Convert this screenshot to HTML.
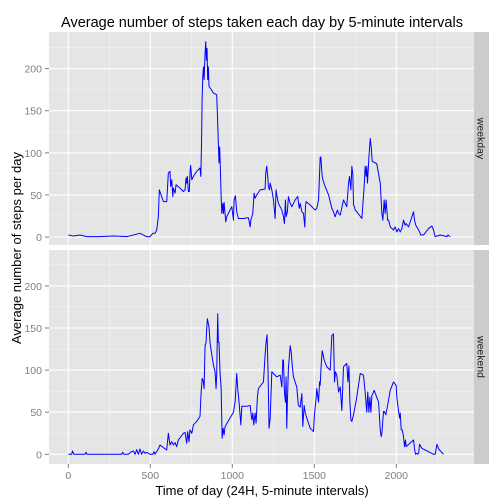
<!DOCTYPE html>
<html><head><meta charset="utf-8"><style>
body{margin:0;background:#fff}
svg{display:block;font-family:"Liberation Sans",Arial,sans-serif}
</style></head><body>
<svg id="chart" width="504" height="504" viewBox="0 0 504 504">
<text x="262" y="27" text-anchor="middle" font-size="14.5" fill="#000">Average number of steps taken each day by 5-minute intervals</text>
<text x="262" y="495" text-anchor="middle" font-size="13" fill="#000">Time of day (24H, 5-minute intervals)</text>
<text transform="translate(21,248) rotate(-90)" text-anchor="middle" font-size="13" fill="#000">Average number of steps per day</text>
<g id="plots"></g>
</svg>
<script>
const xTicks=[0,500,1000,1500,2000];
const xMinor=[250,750,1250,1750,2250];
const yTicks=[0,50,100,150,200];
const yMinor=[25,75,125,175,225];
const facetNames=["weekday","weekend"];
const weekdayX=[0,31,71,112,193,275,356,437,478,498,515,529,539,549,555,580,600,610,620,624,631,637,641,651,657,681,702,712,718,722,726,732,738,742,746,753,763,783,803,808,812,816,820,824,828,834,838,842,846,850,854,858,885,905,909,915,919,923,928,932,936,942,946,950,960,966,986,997,1007,1011,1019,1027,1037,1068,1098,1109,1113,1125,1133,1139,1149,1170,1200,1204,1210,1216,1220,1227,1231,1241,1251,1261,1267,1271,1281,1302,1312,1318,1324,1328,1336,1342,1353,1363,1373,1383,1399,1408,1414,1424,1434,1442,1446,1450,1475,1505,1515,1526,1536,1540,1548,1552,1566,1587,1607,1617,1627,1637,1641,1648,1658,1678,1698,1709,1715,1723,1729,1735,1739,1745,1749,1759,1790,1804,1810,1816,1820,1824,1829,1833,1841,1847,1853,1861,1881,1902,1912,1918,1926,1932,1938,1947,1953,1963,1983,1993,2003,2014,2024,2034,2044,2054,2060,2075,2105,2111,2119,2136,2150,2166,2197,2217,2227,2237,2248,2268,2309,2315,2329,2349];
const weekdayY=[2.4,1.2,2.4,0.4,0.4,1.2,0.4,4.4,0.4,0.4,4.4,4.4,8.3,24,56,42,42,76,78,60,68,48,58,52,62,58,54,56,70,64,72,54,54,76,85,68,72,78,82,72,107,163,190,202,187,218,232,210,224,187,202,179,171,169,147,111,88,107,76,48,28,40,28,41,18,24,32,36,20,44,49,30,22,22,23,12,20,28,52,46,50,56,57,76,84,72,60,56,64,56,44,22,56,50,40,32,24,16,44,24,30,48,40,36,40,44,48,34,40,30,28,12,36,42,38,32,34,44,95,95,72,68,60,50,34,30,24,30,32,28,26,44,36,64,72,56,84,74,38,36,32,30,22,60,84,72,84,64,80,95,117,107,90,89,87,64,28,20,44,28,44,20,20,12,8.3,12,6,10,6,10,20,14,16,12,30,20,14,8.3,2.4,2.4,10,13,8.3,0.4,1.2,2.4,0.4,2.4,0.4];
const weekendX=[0,20,26,33,102,108,114,325,332,338,366,386,397,407,417,427,437,447,458,468,478,498,515,523,529,539,549,559,580,600,610,620,631,641,651,661,671,702,712,722,728,736,742,753,763,783,803,810,816,822,828,834,840,844,848,852,858,864,875,885,895,901,905,911,915,919,925,932,938,944,950,956,986,1007,1017,1027,1033,1041,1048,1052,1058,1088,1109,1115,1119,1125,1131,1139,1145,1153,1159,1190,1200,1206,1212,1218,1224,1231,1241,1251,1271,1292,1302,1308,1312,1318,1324,1328,1332,1336,1342,1353,1359,1365,1373,1383,1393,1403,1414,1424,1430,1438,1444,1454,1475,1495,1501,1511,1515,1526,1532,1536,1542,1548,1552,1560,1576,1597,1607,1617,1623,1629,1637,1648,1658,1668,1678,1698,1705,1711,1717,1723,1729,1739,1749,1759,1780,1800,1810,1820,1826,1833,1839,1845,1851,1857,1865,1892,1902,1908,1912,1922,1926,1936,1947,1963,1983,1999,2003,2014,2020,2024,2030,2036,2044,2050,2056,2060,2105,2111,2117,2123,2130,2136,2142,2156,2227,2237,2248,2258,2288,2309,2329,2335,2341,2353];
const weekendY=[0,0,3.9,0,0,2.4,0,0,2.4,0,0,3.2,3.9,0,5.5,0,6.3,0,3.9,1.2,2.4,0,0,3.2,0,3.2,6.3,11,7.9,5.1,25,11,15,11,14,9.1,17,25,26,13,27,15,29,25,35,39,45,74,90,88,78,129,133,149,161,157,151,133,118,106,98,78,96,167,133,133,98,78,19,31,23,33,43,50,62,96,78,62,45,35,57,57,58,47,41,49,35,49,37,68,78,86,118,133,142,98,31,43,98,96,92,94,80,112,112,74,62,92,31,62,102,129,122,106,92,86,80,58,56,72,33,58,50,43,31,27,47,66,78,62,86,82,106,123,120,112,104,100,141,143,86,98,94,74,80,52,104,108,86,105,62,41,39,47,57,68,96,94,74,50,74,50,68,50,70,72,76,62,29,21,25,51,51,47,58,76,86,82,68,51,43,49,29,29,21,9.1,17,9.1,17,7.1,0,1.2,0,1.2,12,7.1,0,0,12,6.3,0];
const seriesX=[weekdayX,weekendX];
const seriesY=[weekdayY,weekendY];

const NS="http://www.w3.org/2000/svg";
const plots=document.getElementById('plots');
const L=49,R=474;
const panels=[{top:32,bot:245,y0:237},{top:250,bot:464,y0:454.3}];
const ky=0.842;
function xs(v){return 68.3+v*0.164;}
function mk(tag,attrs,parent){const e=document.createElementNS(NS,tag);for(const k in attrs)e.setAttribute(k,attrs[k]);parent.appendChild(e);return e;}
panels.forEach((p,i)=>{
  const ys=v=>p.y0-v*ky;
  const g=mk('g',{},plots);
  
  
  const bg=mk('rect',{x:L,y:p.top,width:R-L,height:p.bot-p.top,fill:'#E5E5E5'},g);
  
  
  xMinor.forEach(v=>{mk('line',{x1:xs(v),x2:xs(v),y1:p.top,y2:p.bot,stroke:'#F2F2F2','stroke-width':0.6},g);});
  yMinor.forEach(v=>{mk('line',{x1:L,x2:R,y1:ys(v),y2:ys(v),stroke:'#F2F2F2','stroke-width':0.6},g);});
  xTicks.forEach(v=>{mk('line',{x1:xs(v),x2:xs(v),y1:p.top,y2:p.bot,stroke:'#fff','stroke-width':1.1},g);});
  yTicks.forEach(v=>{
    mk('line',{x1:L,x2:R,y1:ys(v),y2:ys(v),stroke:'#fff','stroke-width':1.1},g);
    mk('line',{x1:45,x2:L,y1:ys(v),y2:ys(v),stroke:'#7F7F7F','stroke-width':1},g);
    const t=mk('text',{x:42,y:ys(v)+4,'text-anchor':'end','font-size':10.5,fill:'#7F7F7F'},g);
    t.textContent=v;
    
    
  });
  const X=seriesX[i],Y=seriesY[i];
  let d='';
  for(let k=0;k<X.length;k++){d+=(k?'L':'M')+xs(X[k]).toFixed(2)+','+ys(Y[k]).toFixed(2);}
  const path=mk('path',{d:d,fill:'none',stroke:'#0000FF','stroke-width':1,'stroke-linejoin':'round'},g);
  
  
  const strip=mk('rect',{x:R,y:p.top,width:15,height:p.bot-p.top,fill:'#CCCCCC'},g);
  
  
  const cy=(p.top+p.bot)/2;
  const st=mk('text',{transform:'translate('+(R+3.5)+','+cy+') rotate(90)','text-anchor':'middle','font-size':10.5,fill:'#1A1A1A'},g);
  st.textContent=facetNames[i];
  
  
});
xTicks.forEach(v=>{
  mk('line',{x1:xs(v),x2:xs(v),y1:464,y2:468,stroke:'#7F7F7F','stroke-width':1},plots);
  const t=mk('text',{x:xs(v),y:479,'text-anchor':'middle','font-size':10.5,fill:'#7F7F7F'},plots);
  t.textContent=v;
  
  
});
</script>
</body></html>
